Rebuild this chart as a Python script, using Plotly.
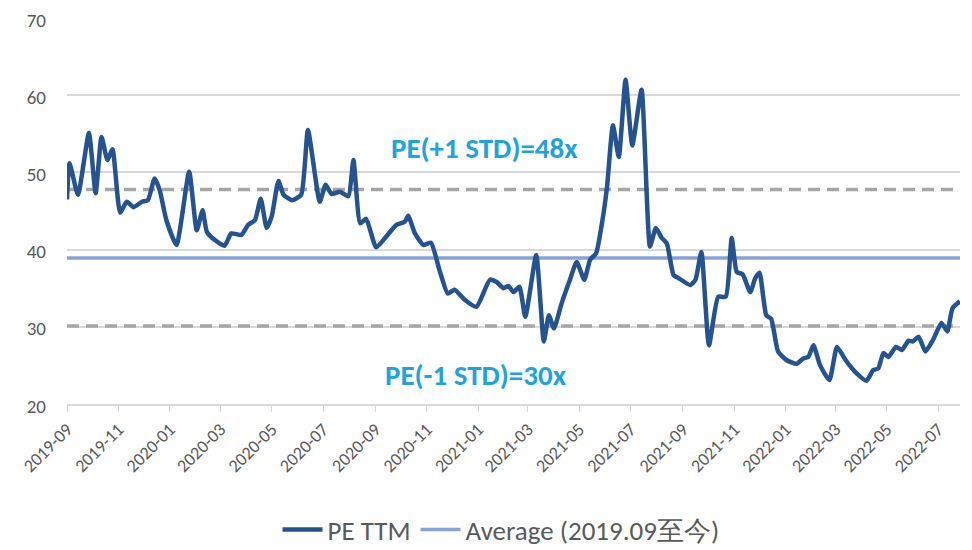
import plotly.graph_objects as go

# ---- data ----
dates = [
    "2019-09-01", "2019-09-04", "2019-09-14", "2019-09-27", "2019-10-05", "2019-10-12",
    "2019-10-19", "2019-10-25", "2019-11-03", "2019-11-11", "2019-11-19", "2019-11-29",
    "2019-12-06", "2019-12-14", "2019-12-20", "2019-12-28", "2020-01-09", "2020-01-24",
    "2020-02-02", "2020-02-09", "2020-02-14", "2020-02-24", "2020-03-06", "2020-03-14",
    "2020-03-26", "2020-04-03", "2020-04-11", "2020-04-18", "2020-04-25", "2020-05-01",
    "2020-05-09", "2020-05-15", "2020-05-25", "2020-06-05", "2020-06-13", "2020-06-27",
    "2020-07-04", "2020-07-11", "2020-07-21", "2020-07-31", "2020-08-06", "2020-08-14",
    "2020-08-21", "2020-09-02", "2020-09-14", "2020-09-26", "2020-10-06", "2020-10-10",
    "2020-10-18", "2020-10-28", "2020-11-06", "2020-11-16", "2020-11-26", "2020-12-04",
    "2020-12-16", "2020-12-30", "2021-01-15", "2021-01-23", "2021-01-31", "2021-02-06",
    "2021-02-12", "2021-02-19", "2021-02-26", "2021-03-11", "2021-03-20", "2021-03-26",
    "2021-04-01", "2021-04-10", "2021-04-20", "2021-04-28", "2021-05-07", "2021-05-14",
    "2021-05-21", "2021-05-28", "2021-06-03", "2021-06-10", "2021-06-17", "2021-06-25",
    "2021-07-03", "2021-07-14", "2021-07-24", "2021-07-31", "2021-08-07", "2021-08-13",
    "2021-08-21", "2021-08-27", "2021-09-10", "2021-09-16", "2021-09-23", "2021-10-02",
    "2021-10-13", "2021-10-22", "2021-10-29", "2021-11-04", "2021-11-11", "2021-11-20",
    "2021-11-26", "2021-12-01", "2021-12-09", "2021-12-15", "2021-12-23", "2022-01-02",
    "2022-01-14", "2022-01-22", "2022-01-28", "2022-02-03", "2022-02-11", "2022-02-22",
    "2022-03-03", "2022-03-12", "2022-03-18", "2022-03-26", "2022-04-07", "2022-04-15",
    "2022-04-21", "2022-04-27", "2022-05-03", "2022-05-12", "2022-05-19", "2022-05-27",
    "2022-06-01", "2022-06-08", "2022-06-16", "2022-06-25", "2022-07-05", "2022-07-12",
    "2022-07-18", "2022-07-27",
]
pe_ttm = [
    46.5, 51.2, 47.1, 55.1, 47.3, 54.6,
    51.6, 53.0, 44.8, 46.2, 45.5, 46.2,
    46.4, 49.2, 47.7, 43.8, 40.6, 50.1,
    42.5, 45.1, 42.3, 41.2, 40.5, 42.1,
    41.9, 43.2, 43.8, 46.6, 42.8, 44.3,
    48.9, 47.1, 46.4, 47.1, 55.5, 46.2,
    48.4, 47.2, 47.5, 46.9, 51.6, 43.4,
    44.0, 40.3, 41.7, 43.2, 43.6, 44.4,
    42.1, 40.6, 40.9, 37.4, 34.3, 34.8,
    33.5, 32.6, 36.1, 35.8, 35.0, 35.3,
    34.5, 35.2, 31.3, 39.3, 28.1, 31.5,
    29.8, 33.0, 36.1, 38.4, 36.1, 38.7,
    39.5, 43.4, 48.1, 56.1, 52.0, 62.0,
    53.5, 60.7, 40.4, 42.8, 41.5, 40.8,
    36.7, 36.3, 35.4, 36.1, 39.7, 27.6,
    33.9, 33.9, 41.5, 37.1, 36.8, 34.5,
    36.3, 37.0, 31.5, 31.0, 26.8, 25.7,
    25.2, 25.9, 26.1, 27.6, 25.0, 23.1,
    27.4, 25.9, 25.0, 24.0, 23.0, 24.4,
    24.6, 26.6, 26.1, 27.4, 27.0, 28.2,
    28.1, 28.7, 26.8, 28.3, 30.5, 29.4,
    32.4, 33.3,
]
average = 38.9
std_up = 47.8
std_dn = 30.1
label_up = "PE(+1 STD)=48x"
label_dn = "PE(-1 STD)=30x"
name_pe = "PE TTM"
name_avg = "Average (2019.09至今)"
y_ticks = [20, 30, 40, 50, 60, 70]

span = [dates[0], dates[-1]]

FONT = "Carlito, Calibri, Lato, sans-serif"
GRAY = "#595959"

fig = go.Figure()
fig.add_trace(go.Scatter(x=span, y=[std_up, std_up], mode="lines",
                         line=dict(color="#A6A6A6", width=3.5, dash="12px,7px"),
                         showlegend=False, hoverinfo="skip"))
fig.add_trace(go.Scatter(x=span, y=[std_dn, std_dn], mode="lines",
                         line=dict(color="#A6A6A6", width=3.5, dash="12px,7px"),
                         showlegend=False, hoverinfo="skip"))
fig.add_trace(go.Scatter(x=span, y=[average, average], mode="lines", name=name_avg,
                         line=dict(color="#86A3D8", width=3.5)))
fig.add_trace(go.Scatter(x=dates, y=pe_ttm, mode="lines", name=name_pe,
                         line=dict(color="#245390", width=4.5, shape="spline", smoothing=0.5)))

fig.add_annotation(x=0.467, y=0.663, xref="paper", yref="paper", text=label_up,
                   xanchor="center", yanchor="middle", showarrow=False,
                   font=dict(family=FONT, size=29, color="#1FA3DC", weight="bold"))
fig.add_annotation(x=0.458, y=0.075, xref="paper", yref="paper", text=label_dn,
                   xanchor="center", yanchor="middle", showarrow=False,
                   font=dict(family=FONT, size=29, color="#1FA3DC", weight="bold"))

# page body adds an 8px offset; size/margins compensate so the plot area sits at 67..960 x 18..404
fig.update_layout(
    width=964, height=542,
    margin=dict(l=59, r=12, t=10, b=146),
    paper_bgcolor="white", plot_bgcolor="white",
    font=dict(family=FONT, size=20, color=GRAY),
    legend=dict(orientation="h", x=0.486, xanchor="center",
                yref="container", y=0.037, yanchor="middle",
                traceorder="reversed", font=dict(family=FONT, size=27, color=GRAY),
                itemwidth=40),
    showlegend=True,
)
fig.update_xaxes(
    type="date", range=span, tick0="2019-09-01", dtick="M2", tickformat="%Y-%m",
    tickangle=-45, showgrid=False, showline=True, linecolor="#D9D9D9", linewidth=1.5,
    ticks="outside", ticklen=6, tickcolor="#D9D9D9", tickfont=dict(family=FONT, size=18, color=GRAY),
    zeroline=False, automargin=False, ticklabeloverflow="allow",
)
fig.update_yaxes(
    range=[20, 70], tickvals=y_ticks, showgrid=True, gridcolor="#D9D9D9", gridwidth=1.5,
    zeroline=False, showline=False, ticks="", ticklabelstandoff=20, ticklabelshift=2,
    tickfont=dict(family=FONT, size=19, color=GRAY), automargin=False, ticklabeloverflow="allow",
)

fig.write_html("out.html")
